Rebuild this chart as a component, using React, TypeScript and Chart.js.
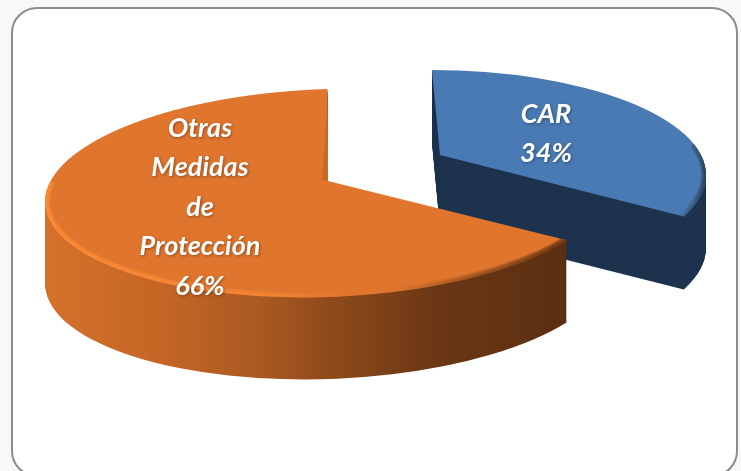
import React, { useEffect, useRef } from "react";
import { Chart, registerables } from "chart.js";

Chart.register(...registerables);

const categories = ["CAR", "Otras Medidas de Protección"];
const values = [34, 66];
const faceColors = ["#4A7AB4", "#E0752D"];

// Per-slice projection of the pie onto the page (a tilted, exploded 3D look)
const projection = [
  { cx: 432, cy: 175, rx: 274, ry: 105, tilt: 0, apexX: 440, apexY: 155, depth: 73, startTrim: 0, endTrim: -0.16, bevelFrom: -0.3, bevelTo: 1 },
  { cx: 327, cy: 193, rx: 282, ry: 104, tilt: -0.035, apexX: 328, apexY: 181, depth: 82, startTrim: 0, endTrim: 0.014, bevelFrom: 0.4, bevelTo: 3.35 },
];
const labelSpots = [
  { x: 546, y: 114 },
  { x: 200, y: 128 },
];
const LINE_HEIGHT = 39.5;

function facePath(ctx: CanvasRenderingContext2D, p: any, a0: number, a1: number) {
  ctx.beginPath();
  ctx.moveTo(p.apexX, p.apexY);
  ctx.ellipse(p.cx, p.cy, p.rx, p.ry, p.tilt, a0, a1);
  ctx.closePath();
}

function sideFill(ctx: CanvasRenderingContext2D, index: number) {
  if (index === 0) return "#1E334D";
  const g = ctx.createLinearGradient(45, 0, 565, 0);
  g.addColorStop(0, "#D4722B");
  g.addColorStop(0.2, "#C76726");
  g.addColorStop(0.4, "#AC5B22");
  g.addColorStop(0.55, "#8F4A1A");
  g.addColorStop(0.75, "#6B3715");
  g.addColorStop(1, "#5B2F11");
  return g;
}

function bevelStroke(ctx: CanvasRenderingContext2D, index: number) {
  if (index === 0) {
    const g = ctx.createLinearGradient(665, 0, 706, 0);
    g.addColorStop(0, "rgba(74,122,180,0)");
    g.addColorStop(1, "rgba(40,55,75,0.9)");
    return g;
  }
  const g = ctx.createLinearGradient(45, 0, 565, 0);
  g.addColorStop(0, "rgba(255,140,54,1)");
  g.addColorStop(0.45, "rgba(255,140,54,0.55)");
  g.addColorStop(0.62, "rgba(224,117,45,0)");
  g.addColorStop(0.75, "rgba(110,58,20,0.25)");
  g.addColorStop(1, "rgba(90,46,16,0.95)");
  return g;
}

function drawSlice(this: any, ctx: CanvasRenderingContext2D, index: number) {
  const p = projection[index];
  const a0 = this.startAngle + p.startTrim;
  const a1 = this.endAngle + p.endTrim;

  ctx.save();
  // extruded body
  ctx.fillStyle = sideFill(ctx, index);
  for (let dy = p.depth; dy > 0; dy--) {
    ctx.save();
    ctx.translate(0, dy);
    facePath(ctx, p, a0, a1);
    ctx.fill();
    ctx.restore();
  }
  // top face
  facePath(ctx, p, a0, a1);
  ctx.fillStyle = this.options.backgroundColor;
  ctx.fill();
  // soft bevel along the front rim only
  ctx.save();
  facePath(ctx, p, a0, a1);
  ctx.clip();
  ctx.strokeStyle = bevelStroke(ctx, index);
  [10, 7, 4].forEach((w) => {
    ctx.globalAlpha = 0.5;
    ctx.lineWidth = w;
    ctx.beginPath();
    ctx.ellipse(p.cx, p.cy, p.rx, p.ry, p.tilt, p.bevelFrom, p.bevelTo);
    ctx.stroke();
  });
  ctx.restore();
  // shaded fold on the back cut of the large slice
  if (index === 1) {
    ctx.fillStyle = "#C56A27";
    ctx.beginPath();
    ctx.moveTo(327, 112);
    ctx.lineTo(322, p.apexY - 1);
    ctx.lineTo(p.apexX, p.apexY);
    ctx.closePath();
    ctx.fill();
  }
  ctx.restore();
}

const projectedArcs = {
  id: "projectedArcs",
  afterDatasetsUpdate(chart: any) {
    chart.getDatasetMeta(0).data.forEach((arc: any, i: number) => {
      arc.draw = function (ctx: CanvasRenderingContext2D) {
        drawSlice.call(this, ctx, i);
      };
    });
  },
};

const sliceLabels = {
  id: "sliceLabels",
  afterDatasetsDraw(chart: any) {
    const ctx: CanvasRenderingContext2D = chart.ctx;
    ctx.save();
    ctx.font = 'italic bold 27px Lato, "Open Sans", sans-serif';
    ctx.textAlign = "center";
    ctx.textBaseline = "middle";
    ctx.fillStyle = "#FFFFFF";
    ctx.shadowColor = "rgba(0,0,0,0.35)";
    ctx.shadowBlur = 3;
    ctx.shadowOffsetX = 1;
    ctx.shadowOffsetY = 1;
    categories.forEach((name, i) => {
      const lines = [...name.split(" "), `${values[i]}%`];
      lines.forEach((line, k) => {
        ctx.fillText(line, labelSpots[i].x, labelSpots[i].y + k * LINE_HEIGHT);
      });
    });
    ctx.restore();
  },
};

export default function App() {
  const ref = useRef<HTMLCanvasElement>(null);
  useEffect(() => {
    const chart = new Chart(ref.current as HTMLCanvasElement, {
      type: "pie",
      data: {
        labels: categories,
        datasets: [{ data: values, backgroundColor: faceColors, borderWidth: 0 }],
      },
      options: {
        animation: false,
        responsive: false,
        plugins: { legend: { display: false }, tooltip: { enabled: false } },
      },
      plugins: [projectedArcs, sliceLabels],
    });
    return () => chart.destroy();
  }, []);
  return (
    <div style={{ position: "fixed", left: 0, top: 0, width: 741, height: 471, overflow: "hidden", background: "#F8F8F8" }}>
      <div
        style={{
          position: "absolute",
          left: 11,
          top: 7,
          width: 727,
          height: 470,
          boxSizing: "border-box",
          border: "2px solid #8C8C8C",
          borderRadius: 26,
          background: "#FFFFFF",
        }}
      />
      <canvas ref={ref} width={741} height={471} style={{ position: "absolute", left: 0, top: 0, display: "block" }} />
    </div>
  );
}
